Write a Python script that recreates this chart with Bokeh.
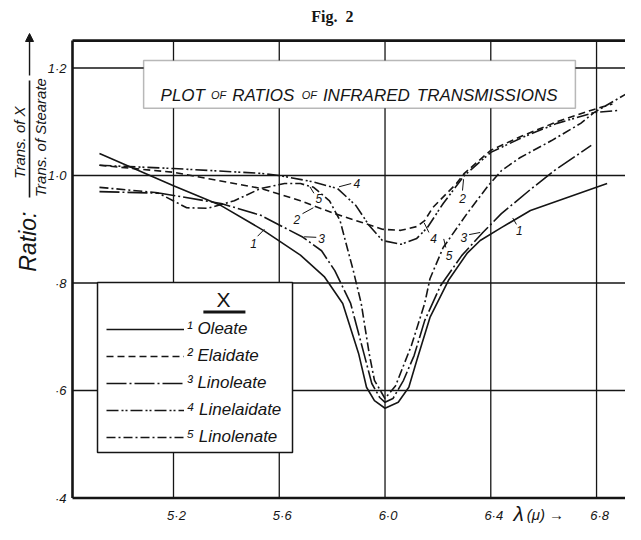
import math
from bokeh.plotting import figure
from bokeh.models import (Range1d, Legend, LegendItem, BoxAnnotation, Label, Arrow,
                          NormalHead, ColumnDataSource)
from bokeh.core.properties import value
from bokeh.embed import file_html
from bokeh.resources import INLINE

# ---------------- data ----------------
oleate_wl = [4.92, 5.20, 5.38, 5.54, 5.68, 5.77, 5.84, 5.90, 5.93, 5.96, 6.00, 6.05,
             6.09, 6.12, 6.17, 6.24, 6.31, 6.36, 6.44, 6.55, 6.84]
oleate_ratio = [1.041, 0.981, 0.944, 0.898, 0.852, 0.812, 0.762, 0.669, 0.606, 0.581, 0.567, 0.578,
                0.606, 0.656, 0.736, 0.805, 0.855, 0.879, 0.903, 0.935, 0.985]

elaidate_wl = [4.92, 5.20, 5.53, 5.68, 5.81, 5.91, 5.99, 6.06, 6.12, 6.15, 6.18, 6.27,
               6.30, 6.40, 6.52, 6.65, 6.79, 6.86]
elaidate_ratio = [1.019, 1.006, 0.976, 0.953, 0.929, 0.913, 0.900, 0.898, 0.905, 0.916, 0.940, 0.985,
                  1.004, 1.047, 1.074, 1.100, 1.123, 1.133]

linoleate_wl = [4.92, 5.15, 5.38, 5.53, 5.69, 5.76, 5.81, 5.87, 5.92, 5.95, 5.98, 6.00,
                6.03, 6.07, 6.11, 6.15, 6.21, 6.29, 6.37, 6.44, 6.55, 6.64, 6.78]
linoleate_ratio = [0.970, 0.967, 0.948, 0.926, 0.885, 0.860, 0.823, 0.762, 0.669, 0.613, 0.587, 0.578,
                   0.585, 0.619, 0.665, 0.730, 0.795, 0.851, 0.894, 0.929, 0.974, 1.009, 1.056]

linelaidate_wl = [4.92, 5.20, 5.53, 5.60, 5.72, 5.82, 5.89, 5.94, 5.99, 6.06, 6.12, 6.16,
                  6.22, 6.30, 6.40, 6.52, 6.65, 6.79, 6.88]
linelaidate_ratio = [1.019, 1.013, 1.004, 1.000, 0.989, 0.976, 0.944, 0.907, 0.879, 0.872, 0.883, 0.903,
                     0.948, 1.000, 1.043, 1.071, 1.097, 1.117, 1.121]

linolenate_wl = [4.92, 5.14, 5.25, 5.33, 5.43, 5.53, 5.62, 5.68, 5.73, 5.79, 5.83, 5.86, 5.88,
                 5.91, 5.94, 5.96, 6.00, 6.04, 6.10, 6.15, 6.17, 6.22, 6.31, 6.39, 6.44, 6.51,
                 6.63, 6.74, 6.79, 6.92]
linolenate_ratio = [0.978, 0.968, 0.940, 0.939, 0.953, 0.976, 0.985, 0.985, 0.978, 0.953, 0.916, 0.860, 0.823,
                    0.762, 0.669, 0.619, 0.585, 0.609, 0.684, 0.762, 0.808, 0.866, 0.929, 0.981, 1.009, 1.033,
                    1.065, 1.097, 1.117, 1.154]

series_names = ["Oleate", "Elaidate", "Linoleate", "Linelaidate", "Linolenate"]
series_marks = ["\u00b9", "\u00b2", "\u00b3", "\u2074", "\u2075"]
series_wl = [oleate_wl, elaidate_wl, linoleate_wl, linelaidate_wl, linolenate_wl]
series_ratio = [oleate_ratio, elaidate_ratio, linoleate_ratio, linelaidate_ratio, linolenate_ratio]

x_ticks = [5.2, 5.6, 6.0, 6.4, 6.8]
x_tick_labels = ["5\u00b72", "5\u00b76", "6\u00b70", "6\u00b74", "6\u00b78"]
y_ticks = [0.4, 0.6, 0.8, 1.0, 1.2]
y_tick_labels = ["\u00b74", "\u00b76", "\u00b78", "1\u00b70", "1\u00b72"]

# curve number call-outs: text, text x, text y, leader start x/y, leader end x/y
callouts = [
    ("1", 5.503, 0.873, 5.518, 0.887, 5.544, 0.900),
    ("3", 5.760, 0.883, 5.740, 0.885, 5.694, 0.886),
    ("2", 5.666, 0.918, 5.688, 0.929, 5.729, 0.940),
    ("5", 5.750, 0.957, 5.731, 0.967, 5.716, 0.979),
    ("4", 5.893, 0.985, 5.872, 0.985, 5.826, 0.979),
    ("4", 6.184, 0.883, 6.166, 0.894, 6.148, 0.912),
    ("2", 6.293, 0.957, 6.293, 0.972, 6.297, 0.993),
    ("5", 6.242, 0.851, 6.230, 0.866, 6.222, 0.882),
    ("3", 6.298, 0.885, 6.318, 0.890, 6.360, 0.894),
    ("1", 6.508, 0.898, 6.497, 0.909, 6.483, 0.921),
]

# ---------------- layout constants ----------------
FONT = "Liberation Sans"
INK = "#151515"
DASHES = ["solid", "7 4", "20 3 2 3", "12 3 2 2 2 3", "9 3 2 3"]

# visible data window of the page, and the drawn plot box inside it
X_VIEW = (4.5457, 6.9095)
Y_VIEW = (0.3507, 1.3256)
X_LO, X_HI = 4.818, X_VIEW[1]
Y_LO, Y_HI = 0.4, 1.251
LEGEND_BOX = dict(left=4.9126, right=5.6501, bottom=0.4847, top=0.8009)
TITLE_BOX = dict(left=5.087, right=6.720, bottom=1.125, top=1.214)

p = figure(width=625, height=524, x_range=Range1d(*X_VIEW), y_range=Range1d(*Y_VIEW),
           output_backend="svg", toolbar_location=None,
           x_axis_location=None, y_axis_location=None,
           min_border_left=0, min_border_right=0, min_border_top=0, min_border_bottom=0)
p.outline_line_color = None
p.xgrid.visible = False
p.ygrid.visible = False
p.background_fill_color = "white"
p.border_fill_color = "white"

# grid
n_x = len(x_ticks)
p.segment(x0=x_ticks, y0=[Y_LO] * n_x, x1=x_ticks, y1=[Y_HI] * n_x,
          line_color=INK, line_width=1.3)
gy = y_ticks[1:]
p.segment(x0=[X_LO] * len(gy), y0=gy, x1=[X_HI] * len(gy), y1=gy,
          line_color=INK, line_width=1.3)
# plot box (left, bottom, top; the right side runs off the page)
p.segment(x0=[X_LO, X_LO, X_LO], y0=[Y_LO, Y_LO, Y_HI],
          x1=[X_LO, X_HI, X_HI], y1=[Y_HI, Y_LO, Y_HI],
          line_color=INK, line_width=2.6)

# tick labels
p.text(x=x_ticks, y=[0.3674] * n_x, text=x_tick_labels, x_offset=3,
       text_font=value(FONT), text_font_style="italic", text_font_size="13px",
       text_color=INK, text_align="center", text_baseline="middle")
p.text(x=[X_LO] * len(y_ticks), y=y_ticks, text=y_tick_labels, x_offset=-6,
       text_font=value(FONT), text_font_style="italic", text_font_size="13px",
       text_color=INK, text_align="right", text_baseline="middle")

# legend panel (white box with border), its "X" heading and the underline
p.quad(left=[LEGEND_BOX["left"]], right=[LEGEND_BOX["right"]],
       bottom=[LEGEND_BOX["bottom"]], top=[LEGEND_BOX["top"]],
       fill_color="white", fill_alpha=1.0, line_color=INK, line_width=1.5)
p.quad(left=[5.313], right=[5.472], bottom=[0.7433], top=[0.7488],
       fill_color=INK, line_color=None)
p.text(x=[5.389], y=[0.7693], text=["X"], text_font=value(FONT), text_font_size="21px",
       text_color=INK, text_align="center", text_baseline="middle")

# curves
items = []
for name, mark, xs, ys, dash in zip(series_names, series_marks, series_wl, series_ratio, DASHES):
    r = p.line(xs, ys, line_color=INK, line_width=1.6, line_dash=dash)
    items.append(LegendItem(label=mark + " " + name, renderers=[r]))

# call-outs
co = ColumnDataSource(dict(
    t=[c[0] for c in callouts], tx=[c[1] for c in callouts], ty=[c[2] for c in callouts],
    x0=[c[3] for c in callouts], y0=[c[4] for c in callouts],
    x1=[c[5] for c in callouts], y1=[c[6] for c in callouts]))
p.segment(x0="x0", y0="y0", x1="x1", y1="y1", source=co, line_color=INK, line_width=1.0)
p.text(x="tx", y="ty", text="t", source=co, text_font=value(FONT), text_font_style="italic",
       text_font_size="12px", text_color=INK, text_align="center", text_baseline="middle")

# title box
p.add_layout(BoxAnnotation(**TITLE_BOX, fill_color="white", fill_alpha=1.0,
                           line_color=INK, line_width=1.5))
title_parts = [("PLOT", 5.151, "17px"), ("OF", 5.342, "11px"), ("RATIOS", 5.422, "17px"),
               ("OF", 5.685, "11px"), ("INFRARED", 5.765, "17px"), ("TRANSMISSIONS", 6.120, "17px")]
for txt, tx, fs in title_parts:
    p.add_layout(Label(x=tx, y=1.149, text=txt, text_font=FONT, text_font_style="italic",
                       text_font_size=fs, text_color=INK, text_baseline="alphabetic",
                       text_align="left"))

# legend entries (drawn over the white panel above)
legend = Legend(items=items, location=(106, 77), padding=6, spacing=7,
                glyph_width=78, glyph_height=20, label_height=20, label_standoff=3,
                label_text_font=FONT, label_text_font_style="italic", label_text_font_size="17px",
                label_text_color=INK, border_line_color=None, background_fill_alpha=0.0,
                margin=0)
p.add_layout(legend)

# axis titles
rot = math.pi / 2
p.add_layout(Label(x=4.648, y=0.877, text="Ratio:", angle=rot, text_font=FONT,
                   text_font_style="italic", text_font_size="23px", text_color=INK,
                   text_align="center", text_baseline="middle"))
p.add_layout(Label(x=4.6176, y=1.0614, text="Trans. of X", angle=rot, text_font=FONT,
                   text_font_style="italic", text_font_size="15px", text_color=INK,
                   text_align="center", text_baseline="middle"))
p.add_layout(Label(x=4.697, y=1.0707, text="Trans. of Stearate", angle=rot, text_font=FONT,
                   text_font_style="italic", text_font_size="15px", text_color=INK,
                   text_align="center", text_baseline="middle"))
p.segment(x0=[4.6555], y0=[0.959], x1=[4.6555], y1=[1.1767], line_color=INK, line_width=1.6)
p.add_layout(Arrow(x_start=4.6555, y_start=1.186, x_end=4.6555, y_end=1.2642,
                   end=NormalHead(size=8, fill_color=INK, line_color=INK),
                   line_color=INK, line_width=1.4))
p.add_layout(Label(x=6.486, y=0.371, text="\u03bb", text_font=FONT,
                   text_font_style="italic", text_font_size="21px", text_color=INK,
                   text_align="left", text_baseline="middle"))
p.add_layout(Label(x=6.536, y=0.369, text="(\u03bc) \u2192", text_font=FONT,
                   text_font_style="italic", text_font_size="15px", text_color=INK,
                   text_align="left", text_baseline="middle"))
p.add_layout(Label(x=5.801, y=1.296, text="Fig.\u00a0\u00a02", text_font="Liberation Serif",
                   text_font_style="bold", text_font_size="16px", text_color=INK,
                   text_align="center", text_baseline="middle"))

open("out.html", "w").write(file_html(p, INLINE))
